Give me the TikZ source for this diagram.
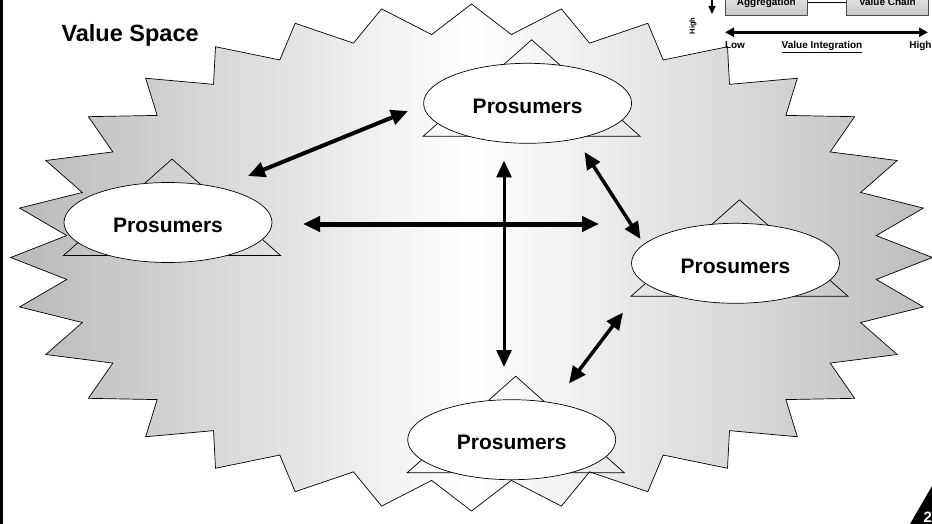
\documentclass[tikz,border=0pt]{standalone}
\usepackage{fontspec}
\setmainfont{Liberation Sans}
\usetikzlibrary{arrows.meta,shapes.geometric}
\begin{document}
\begin{tikzpicture}[x=1pt,y=-1pt,
  every node/.style={inner sep=0pt, outer sep=0pt},
  bubble/.style={ellipse, draw=black, line width=0.7pt, fill=white,
    minimum width=208pt, minimum height=80pt},
  hat/.style={draw=black, line width=0.7pt},
  bubbletext/.style={font=\fontsize{21}{24}\selectfont\bfseries, anchor=base},
  link/.style={draw=black, line cap=butt,
    {Triangle[length=17pt,width=15pt]}-{Triangle[length=17pt,width=15pt]}},
  legendbox/.style={draw=gray!60!black, line width=0.5pt,
    top color=gray!10, bottom color=gray!45},
  smalltext/.style={font=\fontsize{10}{12}\selectfont\bfseries},
]
\useasboundingbox (0,0) rectangle (932,524);

% 32-point starburst with a horizontal grey-white-grey shading
\path[draw=black, line width=0.7pt, left color=gray!55, right color=gray!52, middle color=white]
  (471.5,4)
  \foreach \i in {0,...,31} {
    -- ({471.5+406.7*sin(\i*11.25+5.625)}, {257.5-224*cos(\i*11.25+5.625)})
    -- ({471.5+460.8*sin(\i*11.25+11.25)}, {257.5-253.5*cos(\i*11.25+11.25)})
  } -- cycle;

% left page border
\fill[black] (0,0) rectangle (2.8,524);

% centres of the four prosumer groups
\coordinate (cT) at (527.6,103.3);
\coordinate (cL) at (168,222.5);
\coordinate (cR) at (735.5,263.3);
\coordinate (cB) at (511.7,439.7);

% triangles behind the ellipses
\foreach \c in {cT,cL,cR,cB} {
  \draw[hat, shift={(\c)}] (4,-63.5) -- (112.5,33) -- (-104.5,33) -- cycle;
}

% prosumer ellipses
\node[bubble] (pT) at (cT) {};
\node[bubble] (pL) at (cL) {};
\node[bubble] (pR) at (cR) {};
\node[bubble] (pB) at (cB) {};
\foreach \p in {pT,pL,pR,pB} {
  \node[bubbletext] at ([yshift=-10pt]\p.center) {Prosumers};
}

% arrow end points
\coordinate (a1s) at (248,176);   \coordinate (a1e) at (408,111);
\coordinate (a2s) at (303,224);   \coordinate (a2e) at (599,224);
\coordinate (a3s) at (504,160.5); \coordinate (a3e) at (504,367);
\coordinate (a4s) at (584.5,152); \coordinate (a4e) at (640.5,239);
\coordinate (a5s) at (623,312.5); \coordinate (a5e) at (569,383.5);

\draw[link, line width=4pt] (a1s) -- (a1e);
\draw[link, line width=5pt] (a2s) -- (a2e);
\draw[link, line width=3pt] (a3s) -- (a3e);
\draw[link, line width=3.5pt] (a4s) -- (a4e);
\draw[link, line width=3.5pt] (a5s) -- (a5e);

% title
\node[font=\fontsize{23.5}{27}\selectfont\bfseries, anchor=base west] (title) at (61.5,41.7) {Value Space};

% legend boxes, joined by a thin line
\node[legendbox, minimum width=82.7pt, minimum height=27.4pt] (agg) at (766.35,2) {};
\node[legendbox, minimum width=81.3pt, minimum height=27.4pt] (vch) at (887.35,2) {};
\draw[line width=0.6pt] (agg.east) -- (vch.west);
\node[smalltext, anchor=base] (aggt) at (766.35,5.3) {Aggregation};
\node[smalltext, anchor=base] (vcht) at (887.35,5.3) {Value Chain};

\coordinate (dTop) at (712,-1);
\coordinate (dBot) at (712,14);
\draw[line width=1.5pt, -{Triangle[length=8pt,width=7pt]}] (dTop) -- (dBot);
\node[font=\fontsize{7.5}{9}\selectfont\bfseries, rotate=90] (vhigh) at (693,26) {High};

\coordinate (hL) at (725,32.3);
\coordinate (hR) at (928,32.3);
\draw[line width=2.8pt, {Triangle[length=9pt,width=9pt]}-{Triangle[length=9pt,width=9pt]}] (hL) -- (hR);
\node[smalltext, anchor=base west] (low) at (725,48.5) {Low};
\node[smalltext, anchor=base] (vint) at (822,48.5) {\underline{Value Integration}};
\node[smalltext, anchor=base east] (high) at (931.5,48.5) {High};

% page number corner
\fill[black] (910,524) -- (932,486) -- (932,524) -- cycle;
\node[font=\fontsize{15}{17}\selectfont\bfseries, text=white, anchor=base west] (pg) at (923.5,522.5) {2};
\end{tikzpicture}
\end{document}
